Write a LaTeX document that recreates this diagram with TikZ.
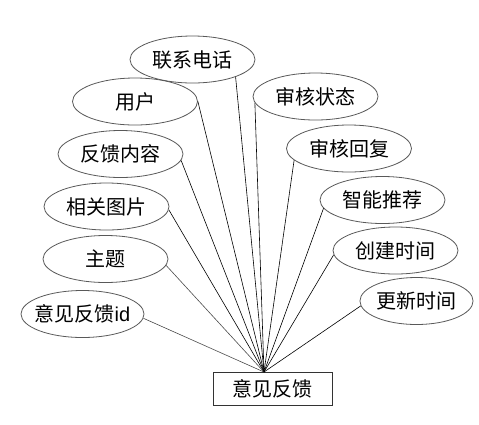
\documentclass[tikz,border=0pt]{standalone}
\usepackage{fontspec}
\setmainfont{Liberation Sans}
\newfontfamily\cjk{Noto Sans CJK SC}
\usetikzlibrary{shapes.geometric}
\begin{document}
\begin{tikzpicture}[x=1pt,y=-1pt,
  attr/.style={ellipse, draw=black!65, line width=0.8pt, minimum width=125pt, minimum height=47pt, inner sep=0pt, font=\cjk\fontsize{20}{22}\selectfont},
  ent/.style={rectangle, draw=black!80, line width=0.8pt, minimum width=119pt, minimum height=33pt, inner sep=0pt, font=\cjk\fontsize{20}{22}\selectfont},
  link/.style={draw=black, line width=0.6pt}]
\useasboundingbox (0,0) rectangle (479,424);
\node[ent] (e) at (272.5,388.5) {意见反馈};
\coordinate (hub) at (264,372);
\node[attr] (a1) at (192.5,59.5) {联系电话};
\node[attr] (a2) at (135,101.5) {用户};
\node[attr] (a3) at (120.5,154) {反馈内容};
\node[attr] (a4) at (106.5,206.5) {相关图片};
\node[attr] (a5) at (105.5,259) {主题};
\node[attr, minimum width=123pt, inner xsep=-12pt] (a6) at (82.5,314) {意见反馈\fontspec{Liberation Sans}id};
\node[attr] (b1) at (315.5,96.5) {审核状态};
\node[attr] (b2) at (349,148.5) {审核回复};
\node[attr] (b3) at (382.5,200) {智能推荐};
\node[attr] (b4) at (395.5,250.5) {创建时间};
\node[attr, minimum width=109pt] (b5) at (416.5,301) {更新时间};
\draw[link] (a1.-22) -- (hub);
\draw[link] (a2.0) -- (hub);
\draw[link] (a3.-6) -- (hub);
\draw[link] (a4.-3) -- (hub);
\draw[link, draw=black!70] (a5.-6) -- (hub);
\draw[link, draw=black!70] (a6.-4) -- (hub);
\draw[link] (b1.186) -- (hub);
\draw[link] (b2.192) -- (hub);
\draw[link] (b3.188) -- (hub);
\draw[link] (b4.184) -- (hub);
\draw[link] (b5.185) -- (hub);
\end{tikzpicture}
\end{document}
